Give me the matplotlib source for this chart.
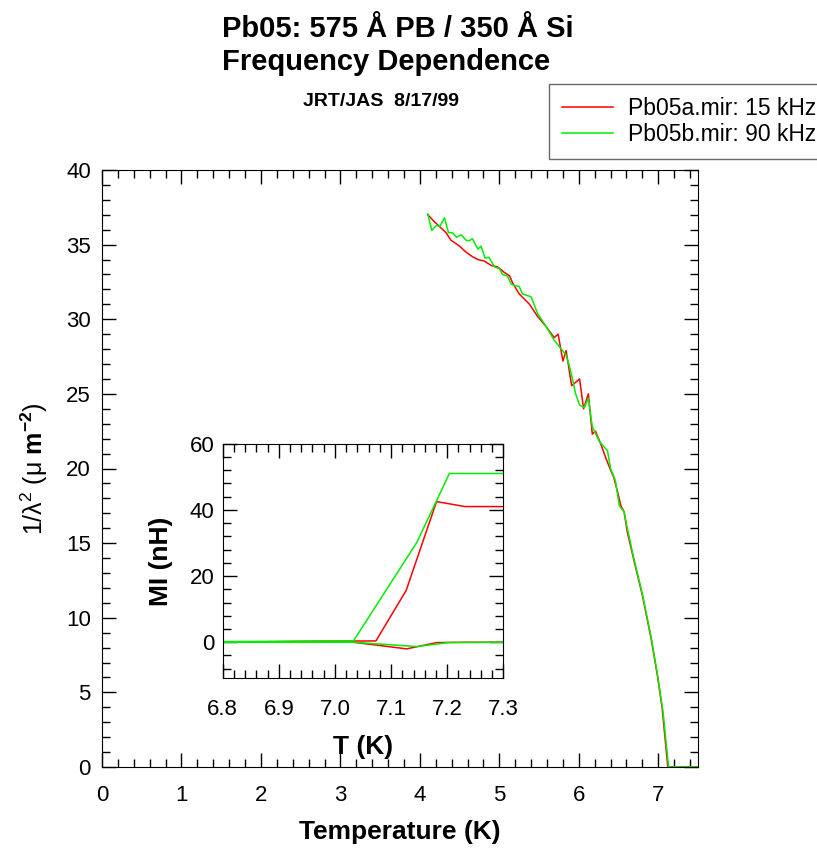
import matplotlib
matplotlib.use("Agg")
import matplotlib.pyplot as plt
from matplotlib.ticker import MultipleLocator, FormatStrFormatter

plt.rcParams['font.family'] = ['Liberation Sans', 'DejaVu Sans']
plt.rcParams['mathtext.fontset'] = 'custom'
plt.rcParams['mathtext.rm'] = 'Liberation Sans'
plt.rcParams['mathtext.it'] = 'Liberation Sans:italic'
plt.rcParams['mathtext.bf'] = 'Liberation Sans:bold'

# main plot data: 1/lambda^2 vs temperature
t_a = [4.10, 4.18, 4.27, 4.33, 4.39, 4.50, 4.58, 4.66, 4.73, 4.81, 4.90, 4.98, 5.06, 5.13,
       5.17, 5.25, 5.38, 5.48, 5.59, 5.65, 5.69, 5.74, 5.80, 5.84, 5.91, 6.01, 6.06, 6.12,
       6.17, 6.21, 6.28, 6.34, 6.40, 6.44, 6.49, 6.53, 6.57, 6.61, 6.70, 6.80, 6.91, 6.99,
       7.05, 7.12, 7.50]
lam_a = [37.0, 36.55, 36.1, 35.8, 35.3, 34.9, 34.5, 34.2, 34.0, 33.9, 33.6, 33.5, 33.15, 32.9,
         32.4, 31.7, 31.0, 30.2, 29.5, 29.06, 28.77, 29.0, 27.2, 27.9, 25.55, 26.0, 24.0, 25.0,
         22.3, 22.5, 21.6, 20.7, 19.9, 19.4, 18.4, 17.5, 17.1, 15.75, 13.7, 11.5, 8.6, 6.1,
         3.9, 0.0, 0.0]

t_b = [4.10, 4.15, 4.21, 4.25, 4.31, 4.36, 4.41, 4.46, 4.52, 4.58, 4.62, 4.66, 4.73, 4.77,
       4.82, 4.87, 4.94, 5.00, 5.04, 5.10, 5.15, 5.19, 5.25, 5.29, 5.40, 5.48, 5.59, 5.69,
       5.75, 5.84, 5.88, 5.92, 5.96, 6.01, 6.07, 6.12, 6.17, 6.26, 6.36, 6.40, 6.46, 6.51,
       6.57, 6.61, 6.70, 6.80, 6.91, 6.99, 7.06, 7.13, 7.50]
lam_b = [37.05, 35.95, 36.3, 36.2, 36.8, 35.8, 35.8, 35.5, 35.65, 35.3, 35.25, 35.4, 34.7, 34.9,
         34.1, 34.15, 33.5, 33.4, 33.0, 32.9, 32.35, 32.25, 32.2, 31.7, 31.5, 30.4, 29.5, 28.6,
         28.2, 27.6, 26.9, 26.0, 25.0, 24.25, 24.1, 24.7, 22.8, 21.8, 21.2, 20.0, 19.2, 17.5,
         17.1, 16.0, 13.8, 11.6, 8.7, 6.2, 3.7, 0.0, 0.0]

# inset data: MI (nH) vs T near Tc, two traces per file
ti_a_up = [6.80, 6.95, 7.073, 7.127, 7.181, 7.232, 7.30]
mi_a_up = [0.0, 0.3, 0.4, 15.7, 42.5, 41.0, 41.0]
ti_a_lo = [6.80, 7.033, 7.128, 7.181, 7.235, 7.30]
mi_a_lo = [0.0, 0.0, -2.0, -0.1, 0.0, 0.0]

ti_b_up = [6.80, 7.033, 7.146, 7.204, 7.30]
mi_b_up = [0.2, 0.4, 30.2, 51.0, 51.0]
ti_b_lo = [6.80, 7.033, 7.146, 7.202, 7.30]
mi_b_lo = [0.0, 0.0, -1.3, -0.1, 0.0]

red = '#ff0000'
green = '#00ee00'

fig = plt.figure(figsize=(8.17, 8.49), dpi=100)

ax = fig.add_axes([102 / 817, 1 - 767 / 849, 596 / 817, 597 / 849])
ax.plot(t_a, lam_a, color=red, lw=1.1, label='Pb05a.mir: 15 kHz')
ax.plot(t_b, lam_b, color=green, lw=1.1, label='Pb05b.mir: 90 kHz')
ax.set_xlim(0, 7.5)
ax.set_ylim(0, 40)
ax.xaxis.set_major_locator(MultipleLocator(1))
ax.xaxis.set_minor_locator(MultipleLocator(0.2))
ax.yaxis.set_major_locator(MultipleLocator(5))
ax.yaxis.set_minor_locator(MultipleLocator(1))
ax.tick_params(which='both', direction='in', top=True, right=True, labelsize=16)
ax.tick_params(axis='x', pad=13)
ax.tick_params(axis='y', pad=8)
ax.tick_params(which='major', length=10, width=1)
ax.tick_params(which='minor', length=6, width=1)
ax.set_xlabel('Temperature (K)', fontsize=19, fontweight='bold')
ax.xaxis.set_label_coords(0.5, -0.088)
ax.set_ylabel('1/λ$^{\\mathregular{2}}$ (μ $\\mathbf{m^{-2}}$)', fontsize=18)
ax.yaxis.set_label_coords(-0.087, 0.5)

# inset
axi = fig.add_axes([222.7 / 817, 1 - 678 / 849, 280.6 / 817, 234.3 / 849])
axi.plot(ti_a_up, mi_a_up, color=red, lw=1.1)
axi.plot(ti_a_lo, mi_a_lo, color=red, lw=1.1)
axi.plot(ti_b_up, mi_b_up, color=green, lw=1.1)
axi.plot(ti_b_lo, mi_b_lo, color=green, lw=1.1)
axi.set_xlim(6.8, 7.3)
axi.set_ylim(-10.8, 60)
axi.xaxis.set_major_locator(MultipleLocator(0.1))
axi.xaxis.set_minor_locator(MultipleLocator(0.02))
axi.yaxis.set_major_locator(MultipleLocator(20))
axi.yaxis.set_minor_locator(MultipleLocator(4))
axi.xaxis.set_major_formatter(FormatStrFormatter('%.1f'))
axi.tick_params(which='both', direction='in', top=True, right=True, labelsize=16)
axi.tick_params(axis='x', pad=15)
axi.tick_params(axis='y', pad=6)
axi.tick_params(which='major', length=10, width=1)
axi.tick_params(which='minor', length=6, width=1)
axi.set_xlabel('T (K)', fontsize=19, fontweight='bold')
axi.xaxis.set_label_coords(0.5, -0.243)
axi.set_ylabel('MI (nH)', fontsize=19, fontweight='bold')
axi.yaxis.set_label_coords(-0.177, 0.5)

# titles
fig.text(222 / 817, 1 - 36.7 / 849, 'Pb05: 575 Å PB / 350 Å Si', fontsize=21,
         fontweight='bold', ha='left', va='baseline')
fig.text(222 / 817, 1 - 70 / 849, 'Frequency Dependence', fontsize=21,
         fontweight='bold', ha='left', va='baseline')
fig.text(303 / 817, 1 - 106 / 849, 'JRT/JAS  8/17/99', fontsize=14,
         fontweight='bold', ha='left', va='baseline')

leg = fig.legend(loc='upper left', bbox_to_anchor=(549 / 817, 1 - 84 / 849),
                 fontsize=16.5, frameon=True, fancybox=False, shadow=False,
                 handlelength=2.26, handletextpad=0.65, labelspacing=0.15,
                 borderpad=0.55, borderaxespad=0)
leg.get_frame().set_edgecolor('#444444')
leg.get_frame().set_linewidth(1.0)

fig.savefig('out.png', dpi=100)
